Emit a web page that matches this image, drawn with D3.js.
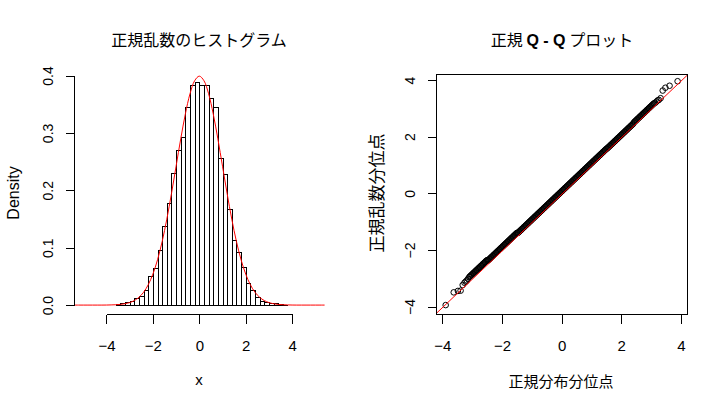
<!DOCTYPE html>
<html><head><meta charset="utf-8">
<script src="https://cdn.jsdelivr.net/npm/d3@7"></script>
<style>body{margin:0;background:#fff}svg{display:block}</style>
</head><body><svg id="c" width="725" height="406"></svg>
<script>
// ---------- data ----------
const histBreaks = [-3.6,-3.4,-3.2,-3.0,-2.8,-2.6,-2.4,-2.2,-2.0,-1.8,-1.6,-1.4,-1.2,-1.0,-0.8,-0.6,-0.4,-0.2,0.0,
  0.2,0.4,0.6,0.8,1.0,1.2,1.4,1.6,1.8,2.0,2.2,2.4,2.6,2.8,3.0,3.2,3.4,3.6,3.8];
const histDensity = [0.0012,0.003,0.0047,0.007,0.0122,0.0163,0.0256,0.050,0.064,0.0954,0.1379,0.1774,0.2298,0.270,0.2926,0.345,0.3834,0.388,
  0.3834,0.3834,0.3613,0.345,0.256,0.228,0.167,0.1129,0.0919,0.0657,0.0378,0.0262,0.0145,0.0076,0.0047,0.003,0.003,0.0012,0.0006];
const curveX = [-5.4,-5.2,-5.0,-4.8,-4.6,-4.4,-4.2,-4.0,-3.8,-3.6,-3.4,-3.2,-3.0,-2.8,-2.6,-2.4,-2.2,-2.0,-1.8,-1.6,-1.4,-1.2,-1.0,-0.8,-0.6,-0.4,-0.2,0.0,
  0.2,0.4,0.6,0.8,1.0,1.2,1.4,1.6,1.8,2.0,2.2,2.4,2.6,2.8,3.0,3.2,3.4,3.6,3.8,4.0,4.2,4.4,4.6,4.8,5.0,5.2,5.4];
const curveY = [0,0,0,0,0,0,0,0.0001,0.0003,0.0006,0.0012,0.0024,0.0044,0.0079,0.0136,0.0224,0.0355,0.0540,0.0790,0.1109,0.1497,0.1942,0.2420,0.2897,0.3332,0.3683,0.3910,0.3989,
  0.3910,0.3683,0.3332,0.2897,0.2420,0.1942,0.1497,0.1109,0.0790,0.0540,0.0355,0.0224,0.0136,0.0079,0.0044,0.0024,0.0012,0.0006,0.0003,0.0001,0,0,0,0,0,0,0];
const histXTicks = [-4,-2,0,2,4];
const histYTicks = [0.0,0.1,0.2,0.3,0.4];

// theoretical quantiles (x) and sample quantiles (y) of the Q-Q plot
const qqTheo = [-3.89,-3.62,-3.48,-3.39,-3.32,-3.26,-3.22,-3.18,-3.14,
  -3.100,-3.075,-3.050,-3.025,-3.000,-2.975,-2.950,-2.925,-2.900,-2.875,-2.850,-2.825,-2.800,-2.775,-2.750,-2.725,-2.700,-2.675,-2.650,-2.625,-2.600,-2.575,-2.550,-2.525,-2.500,
  -2.475,-2.450,-2.425,-2.400,-2.375,-2.350,-2.325,-2.300,-2.275,-2.250,-2.225,-2.200,-2.175,-2.150,-2.125,-2.100,-2.075,-2.050,-2.025,-2.000,-1.975,-1.950,-1.925,-1.900,-1.875,-1.850,-1.825,-1.800,-1.775,-1.750,-1.725,-1.700,-1.675,-1.650,-1.625,-1.600,-1.575,-1.550,-1.525,-1.500,
  -1.475,-1.450,-1.425,-1.400,-1.375,-1.350,-1.325,-1.300,-1.275,-1.250,-1.225,-1.200,-1.175,-1.150,-1.125,-1.100,-1.075,-1.050,-1.025,-1.000,-0.975,-0.950,-0.925,-0.900,-0.875,-0.850,-0.825,-0.800,-0.775,-0.750,-0.725,-0.700,-0.675,-0.650,-0.625,-0.600,-0.575,-0.550,-0.525,-0.500,-0.475,-0.450,-0.425,-0.400,-0.375,-0.350,-0.325,-0.300,-0.275,-0.250,-0.225,-0.200,-0.175,-0.150,-0.125,-0.100,-0.075,-0.050,-0.025,0.000,
  0.025,0.050,0.075,0.100,0.125,0.150,0.175,0.200,0.225,0.250,0.275,0.300,0.325,0.350,0.375,0.400,0.425,0.450,0.475,0.500,0.525,0.550,0.575,0.600,0.625,0.650,0.675,0.700,0.725,0.750,0.775,0.800,0.825,0.850,0.875,0.900,0.925,0.950,0.975,1.000,1.025,1.050,1.075,1.100,1.125,1.150,1.175,1.200,1.225,1.250,1.275,1.300,1.325,1.350,1.375,1.400,1.425,1.450,1.475,1.500,
  1.525,1.550,1.575,1.600,1.625,1.650,1.675,1.700,1.725,1.750,1.775,1.800,1.825,1.850,1.875,1.900,1.925,1.950,1.975,2.000,2.025,2.050,2.075,2.100,2.125,2.150,2.175,2.200,2.225,2.250,2.275,2.300,2.325,2.350,2.375,2.400,
  2.425,2.450,2.475,2.500,2.525,2.550,2.575,2.600,2.625,2.650,2.675,2.700,2.725,2.750,2.775,2.800,2.825,2.850,2.875,2.900,2.925,2.950,2.975,3.000,3.025,3.050,3.075,3.100,
  3.14,3.18,3.22,3.26,3.32,3.39,3.48,3.62,3.89];
const qqSample = [-3.95,-3.50,-3.45,-3.44,-3.24,-3.16,-3.12,-3.08,-3.02,
  -2.960,-2.935,-2.910,-2.885,-2.860,-2.835,-2.810,-2.785,-2.760,-2.735,-2.710,-2.685,-2.660,-2.635,-2.610,-2.585,-2.560,-2.535,-2.510,-2.485,-2.460,-2.435,-2.410,-2.385,-2.360,
  -2.375,-2.350,-2.325,-2.300,-2.275,-2.250,-2.225,-2.200,-2.175,-2.150,-2.125,-2.100,-2.075,-2.050,-2.025,-2.000,-1.975,-1.950,-1.925,-1.900,-1.875,-1.850,-1.825,-1.800,-1.775,-1.750,-1.725,-1.700,-1.675,-1.650,-1.625,-1.600,-1.575,-1.550,-1.525,-1.500,-1.475,-1.450,-1.425,-1.400,
  -1.405,-1.380,-1.355,-1.330,-1.305,-1.280,-1.255,-1.230,-1.205,-1.180,-1.155,-1.130,-1.105,-1.080,-1.055,-1.030,-1.005,-0.980,-0.955,-0.930,-0.905,-0.880,-0.855,-0.830,-0.805,-0.780,-0.755,-0.730,-0.705,-0.680,-0.655,-0.630,-0.605,-0.580,-0.555,-0.530,-0.505,-0.480,-0.455,-0.430,-0.405,-0.380,-0.355,-0.330,-0.305,-0.280,-0.255,-0.230,-0.205,-0.180,-0.155,-0.130,-0.105,-0.080,-0.055,-0.030,-0.005,0.020,0.045,0.070,
  0.095,0.120,0.145,0.170,0.195,0.220,0.245,0.270,0.295,0.320,0.345,0.370,0.395,0.420,0.445,0.470,0.495,0.520,0.545,0.570,0.595,0.620,0.645,0.670,0.695,0.720,0.745,0.770,0.795,0.820,0.845,0.870,0.895,0.920,0.945,0.970,0.995,1.020,1.045,1.070,1.095,1.120,1.145,1.170,1.195,1.220,1.245,1.270,1.295,1.320,1.345,1.370,1.395,1.420,1.445,1.470,1.495,1.520,1.545,1.570,
  1.585,1.610,1.635,1.660,1.685,1.710,1.735,1.760,1.785,1.810,1.835,1.860,1.885,1.910,1.935,1.960,1.985,2.010,2.035,2.060,2.085,2.110,2.135,2.160,2.185,2.210,2.235,2.260,2.285,2.310,2.335,2.360,2.385,2.410,2.435,2.460,
  2.505,2.530,2.555,2.580,2.605,2.630,2.655,2.680,2.705,2.730,2.755,2.780,2.805,2.830,2.855,2.880,2.905,2.930,2.955,2.980,3.005,3.030,3.055,3.080,3.105,3.130,3.155,3.180,
  3.20,3.24,3.28,3.30,3.36,3.63,3.73,3.80,3.96];
const qqLineIntercept = -0.04;
const qqLineSlope = 1.0;
const qqXTicks = [-4,-2,0,2,4];
const qqYTicks = [-4,-2,0,2,4];

// ---------- drawing ----------
const svg = d3.select('#c');
svg.append('rect').attr('width',725).attr('height',406).attr('fill','#fff');
const latin = "'Liberation Sans', Arial, sans-serif";
const cjk = "'Noto Sans CJK JP', 'Noto Sans CJK SC', sans-serif";
const px = v => Math.round(v) + 0.5;

// Left panel: histogram
const L = {left:74, right:324.6, top:73.5, bottom:314};
const xH = d3.scaleLinear().domain([-5.4,5.4]).range([L.left,L.right]);
const yH = d3.scaleLinear().domain([-0.01552,0.4035]).range([L.bottom,L.top]);

const gH = svg.append('g');
gH.selectAll('path.bar').data(histDensity).enter().append('path')
  .attr('class','bar')
  .attr('d',(d,i)=>{
    const x0=px(xH(histBreaks[i])), x1=px(xH(histBreaks[i+1]));
    const y0=px(yH(0)), y1=px(yH(d));
    return `M${x0},${y0}V${y1}H${x1}V${y0}Z`;
  })
  .attr('fill','#fff').attr('stroke','#000').attr('stroke-width',1)
  .attr('shape-rendering','crispEdges');

const curvePts = curveX.map((x,i)=>[x,curveY[i]]);
gH.append('path').datum(curvePts)
  .attr('d', d3.line().x(d=>xH(d[0])).y(d=>yH(d[1])).curve(d3.curveCatmullRom))
  .attr('fill','none').attr('stroke','#ff0000').attr('stroke-width',1);

function styleAxis(g, size){
  g.select('.domain').remove();
  g.selectAll('line').attr('stroke','#000').attr('shape-rendering','crispEdges');
  g.selectAll('text').attr('fill','#000').style('font-family',latin).style('font-size',size+'px');
}

// x axis (histogram)
const axHx = svg.append('g').attr('transform',`translate(0,${px(L.bottom)})`)
  .call(d3.axisBottom(xH).tickValues(histXTicks).tickFormat(d3.format('d')).tickSize(9));
styleAxis(axHx, 15);
axHx.selectAll('text').attr('y',36).attr('dy',0);
axHx.append('line').attr('x1',px(xH(-4))).attr('x2',px(xH(4))).attr('stroke','#000').attr('shape-rendering','crispEdges');

// y axis (histogram)
const axHy = svg.append('g').attr('transform',`translate(${px(L.left)},0)`)
  .call(d3.axisLeft(yH).tickValues(histYTicks).tickFormat(d3.format('.1f')).tickSize(9));
styleAxis(axHy, 14);
axHy.selectAll('text').attr('transform','rotate(-90)').attr('x',0).attr('y',-22).attr('dy',0).style('text-anchor','middle');
axHy.append('line').attr('y1',px(yH(0))).attr('y2',px(yH(0.4))).attr('stroke','#000').attr('shape-rendering','crispEdges');

// titles / labels left
svg.append('text').attr('x',199).attr('y',46).attr('text-anchor','middle')
  .style('font-family',cjk).style('font-size','16px').text('正規乱数のヒストグラム');
svg.append('text').attr('x',199).attr('y',385).attr('text-anchor','middle')
  .style('font-family',latin).style('font-size','15px').text('x');
svg.append('text').attr('transform','translate(19,193) rotate(-90)').attr('text-anchor','middle')
  .style('font-family',latin).style('font-size','16px').text('Density');

// Right panel: QQ plot
const R = {left:436, right:687.3, top:73.5, bottom:314};
const xQ = d3.scaleLinear().domain([-4.215,4.215]).range([R.left,R.right]);
const yQ = d3.scaleLinear().domain([-4.265,4.233]).range([R.bottom,R.top]);

svg.append('clipPath').attr('id','qclip').append('rect')
  .attr('x',R.left).attr('y',R.top).attr('width',R.right-R.left).attr('height',R.bottom-R.top);

const gQ = svg.append('g').attr('clip-path','url(#qclip)');
gQ.selectAll('circle').data(qqTheo).enter().append('circle')
  .attr('cx',(d)=>xQ(d)).attr('cy',(d,i)=>yQ(qqSample[i])).attr('r',2.8)
  .attr('fill','none').attr('stroke','#000').attr('stroke-width',1);
const xd = xQ.domain();
gQ.append('line')
  .attr('x1',xQ(xd[0])).attr('y1',yQ(qqLineIntercept+qqLineSlope*xd[0]))
  .attr('x2',xQ(xd[1])).attr('y2',yQ(qqLineIntercept+qqLineSlope*xd[1]))
  .attr('stroke','#ff0000').attr('stroke-width',1);

svg.append('rect').attr('x',px(R.left)).attr('y',px(R.top))
  .attr('width',Math.round(R.right)-Math.round(R.left)).attr('height',Math.round(R.bottom)-Math.round(R.top))
  .attr('fill','none').attr('stroke','#000').attr('shape-rendering','crispEdges');

const axQx = svg.append('g').attr('transform',`translate(0,${px(R.bottom)})`)
  .call(d3.axisBottom(xQ).tickValues(qqXTicks).tickFormat(d3.format('d')).tickSize(9));
styleAxis(axQx, 15);
axQx.selectAll('text').attr('y',36).attr('dy',0);

const axQy = svg.append('g').attr('transform',`translate(${px(R.left)},0)`)
  .call(d3.axisLeft(yQ).tickValues(qqYTicks).tickFormat(d3.format('d')).tickSize(9));
styleAxis(axQy, 14);
axQy.selectAll('text').attr('transform','rotate(-90)').attr('x',0).attr('y',-22).attr('dy',0).style('text-anchor','middle');

const t2 = svg.append('text').attr('x',562).attr('y',46).attr('text-anchor','middle')
  .style('font-family',cjk).style('font-size','16px');
t2.append('tspan').text('正規 ');
t2.append('tspan').style('font-family',latin).style('font-weight','bold').text('Q - Q');
t2.append('tspan').text(' プロット');

svg.append('text').attr('x',561).attr('y',387).attr('text-anchor','middle')
  .style('font-family',cjk).style('font-size','15px').text('正規分布分位点');
svg.append('text').attr('transform','translate(383,193) rotate(-90)').attr('text-anchor','middle')
  .style('font-family',cjk).style('font-size','17px').text('正規乱数分位点');
</script>
</body></html>
